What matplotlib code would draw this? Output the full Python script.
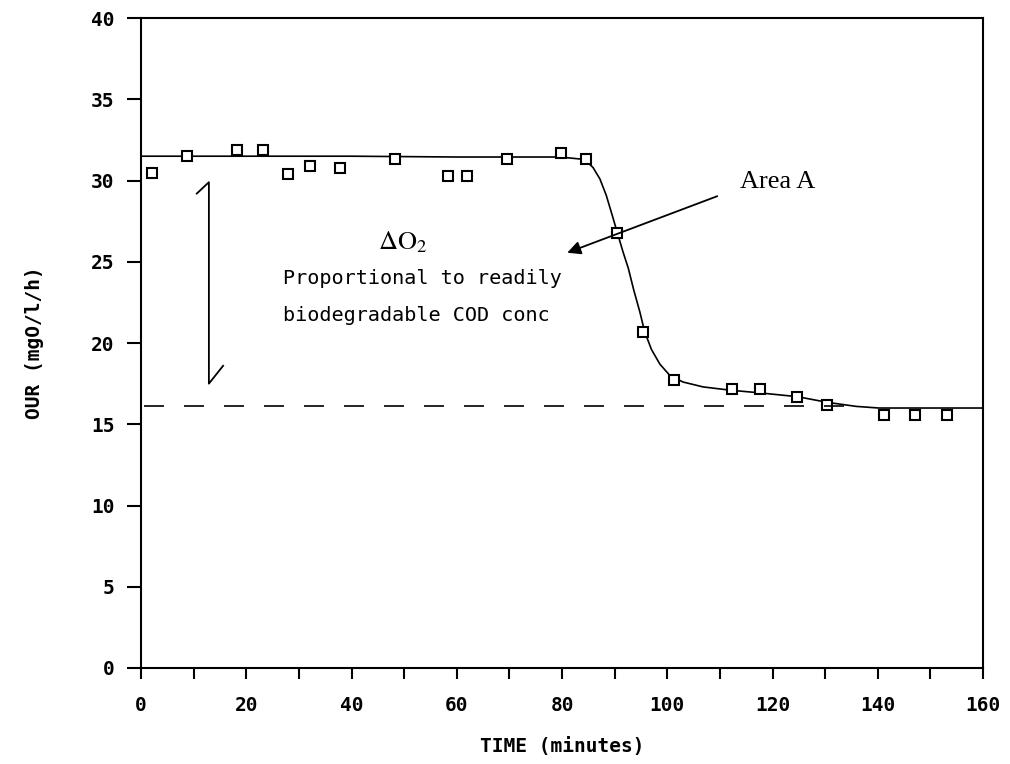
import matplotlib
matplotlib.use("Agg")
import matplotlib.pyplot as plt
from matplotlib.ticker import MultipleLocator

# measured OUR points (open squares)
time_pts = [2.0, 8.7, 18.2, 23.2, 28.0, 32.1, 37.8, 48.2, 58.4, 61.9, 69.5, 79.9,
            84.5, 90.5, 95.3, 101.3, 112.3, 117.7, 124.7, 130.4, 141.2, 147.1, 153.1]
our_pts = [30.45, 31.5, 31.9, 31.9, 30.4, 30.9, 30.8, 31.3, 30.3, 30.3, 31.3, 31.7,
           31.3, 26.8, 20.7, 17.7, 17.2, 17.2, 16.7, 16.2, 15.6, 15.6, 15.6]

# fitted curve
curve_t = [0, 20, 40, 60, 79.6, 84.3, 85.9, 87.2, 88.4, 89.6, 90.5, 91.6, 92.6, 93.6,
           94.8, 95.7, 97.0, 98.6, 100.5, 103.0, 106.8, 111.9, 117.0, 124.7, 130.4,
           135.9, 140.2, 160]
curve_our = [31.5, 31.5, 31.5, 31.45, 31.45, 31.3, 30.8, 30.1, 29.1, 27.8, 26.8, 25.6,
             24.6, 23.3, 21.9, 20.7, 19.6, 18.7, 18.0, 17.6, 17.3, 17.1, 16.95, 16.7,
             16.35, 16.1, 16.0, 16.0]

# baseline OUR (endogenous)
base_t = [0.5, 135]
base_our = [16.1, 16.1]

# delta O2 bracket
bracket_t = [10.6, 12.9, 12.9, 15.6]
bracket_our = [29.2, 29.9, 17.5, 18.6]

mono = "DejaVu Sans Mono"
plt.rcParams["mathtext.fontset"] = "stix"

fig = plt.figure(figsize=(10.10, 7.64), dpi=100)
ax = fig.add_axes([0.1396, 0.1257, 0.8337, 0.8506])

ax.plot(curve_t, curve_our, color="black", lw=1.2)
ax.plot(time_pts, our_pts, linestyle="none", marker="s", markersize=7.5,
        markerfacecolor="white", markeredgecolor="black", markeredgewidth=1.5)
ax.plot(base_t, base_our, color="black", lw=1.2, linestyle=(0, (12, 12)))
ax.plot(bracket_t, bracket_our, color="black", lw=1.3)

ax.text(49.8, 26.2, r"$\Delta\mathrm{O}_2$", fontsize=19, ha="center", va="center")
ax.text(27, 24.0, "Proportional to readily", family=mono, fontsize=14.5,
        ha="left", va="center")
ax.text(27, 21.7, "biodegradable COD conc", family=mono, fontsize=14.5,
        ha="left", va="center")
ax.text(121, 29.9, "Area A", family="Liberation Serif", fontsize=19,
        ha="center", va="center")
ax.annotate("", xy=(80.5, 25.5), xytext=(110, 29.1),
            arrowprops=dict(arrowstyle="-|>", color="black", lw=1.3,
                            mutation_scale=20))

ax.set_xlim(0, 160)
ax.set_ylim(0, 40)
ax.xaxis.set_major_locator(MultipleLocator(20))
ax.xaxis.set_minor_locator(MultipleLocator(10))
ax.yaxis.set_major_locator(MultipleLocator(5))
ax.tick_params(axis="x", which="both", direction="out", length=8, width=1.5, pad=12)
ax.tick_params(axis="y", which="both", direction="out", length=10, width=1.5, pad=9)
for lab in ax.get_xticklabels() + ax.get_yticklabels():
    lab.set_family(mono)
    lab.set_fontsize(14)
    lab.set_fontweight("bold")
for sp in ax.spines.values():
    sp.set_linewidth(1.5)

ax.set_xlabel("TIME (minutes)", family=mono, fontsize=14, fontweight="bold", labelpad=16)
ax.set_ylabel("OUR (mgO/l/h)", family=mono, fontsize=14, fontweight="bold", labelpad=34)

fig.savefig("out.png", dpi=100)
